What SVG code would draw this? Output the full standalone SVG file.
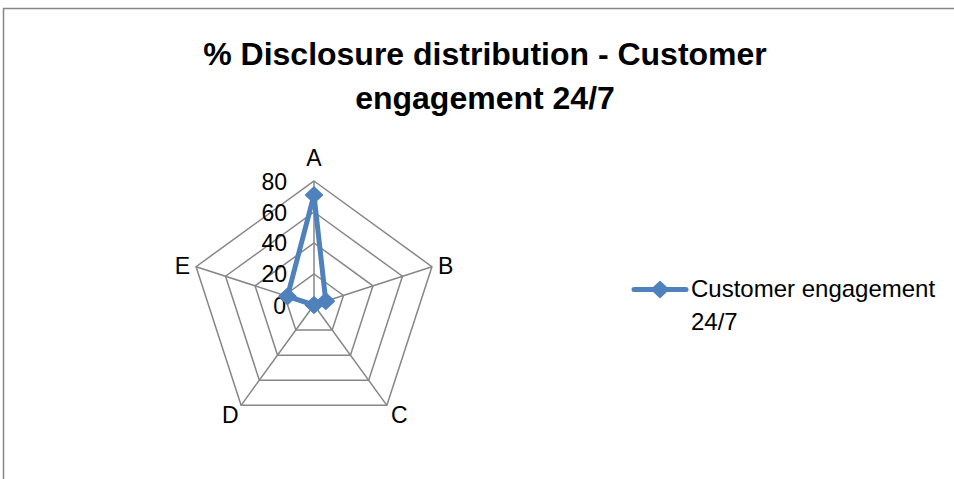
<svg xmlns="http://www.w3.org/2000/svg" width="954" height="479" viewBox="0 0 954 479">
  <style>
    .grid { fill: none; stroke: #868686; stroke-width: 1.5; stroke-linejoin: miter; }
    .title { font-family: "Liberation Sans", Arial, sans-serif; font-weight: bold; font-size: 32px; fill: #000; text-anchor: middle; }
    .lbl { font-family: "Liberation Sans", Arial, sans-serif; font-size: 23px; fill: #000; }
    .leg { font-family: "Liberation Sans", Arial, sans-serif; font-size: 24px; fill: #000; }
    .series { fill: none; stroke: #4F81BD; stroke-width: 5; stroke-linejoin: round; stroke-linecap: round; }
    .mk { fill: #4F81BD; stroke: #4F81BD; stroke-width: 1.5; stroke-linejoin: round; }
  </style>
  <defs>
    <polygon id="diamond" points="0,-8 8.5,0 0,8 -8.5,0"/>
  </defs>
  <rect x="0" y="0" width="954" height="479" fill="#fff"/>
  <path d="M3.5,479 V8.5 H954" fill="none" stroke="#868686" stroke-width="1.5"/>

  <g id="title">
    <text class="title" x="485" y="65">% Disclosure distribution - Customer</text>
    <text class="title" x="485" y="109">engagement 24/7</text>
  </g>

  <g id="grid">
    <polygon class="grid" points="314,274 343.48,295.42 332.22,330.08 295.78,330.08 284.52,295.42"/>
    <polygon class="grid" points="314,243 372.97,285.84 350.44,355.16 277.56,355.16 255.03,285.84"/>
    <polygon class="grid" points="314,212 402.45,276.26 368.67,380.24 259.33,380.24 225.55,276.26"/>
    <polygon class="grid" points="314,181 431.94,266.68 386.89,405.32 241.11,405.32 196.06,266.68"/>
    <path class="grid" d="M314,305 L314,181 M314,305 L431.94,266.68 M314,305 L386.89,405.32 M314,305 L241.11,405.32 M314,305 L196.06,266.68"/>
  </g>

  <g id="axis-values">
    <text class="lbl" x="287" y="190" text-anchor="end">80</text>
    <text class="lbl" x="287" y="221" text-anchor="end">60</text>
    <text class="lbl" x="287" y="251" text-anchor="end">40</text>
    <text class="lbl" x="287" y="282" text-anchor="end">20</text>
    <text class="lbl" x="286" y="314" text-anchor="end">0</text>
  </g>

  <g id="axis-A"><text class="lbl" x="314" y="166" text-anchor="middle">A</text></g>
  <g id="axis-B"><text class="lbl" x="438" y="274">B</text></g>
  <g id="axis-C"><text class="lbl" x="391" y="423">C</text></g>
  <g id="axis-D"><text class="lbl" x="222" y="423">D</text></g>
  <g id="axis-E"><text class="lbl" x="190" y="274" text-anchor="end">E</text></g>

  <g id="series">
    <polygon class="series" points="314,194.95 325.79,301.17 314,305 314,305 287.47,296.38"/>
    <use href="#diamond" class="mk" x="314" y="194.95"/>
    <use href="#diamond" class="mk" x="325.79" y="301.17"/>
    <use href="#diamond" class="mk" x="314" y="305"/>
    <use href="#diamond" class="mk" x="314" y="305"/>
    <use href="#diamond" class="mk" x="287.47" y="296.38"/>
  </g>

  <g id="legend">
    <line x1="634" y1="289.5" x2="686" y2="289.5" stroke="#4F81BD" stroke-width="5" stroke-linecap="round"/>
    <use href="#diamond" class="mk" x="660" y="289.5"/>
    <text class="leg" x="691" y="297">Customer engagement</text>
    <text class="leg" x="691" y="330">24/7</text>
  </g>
</svg>
